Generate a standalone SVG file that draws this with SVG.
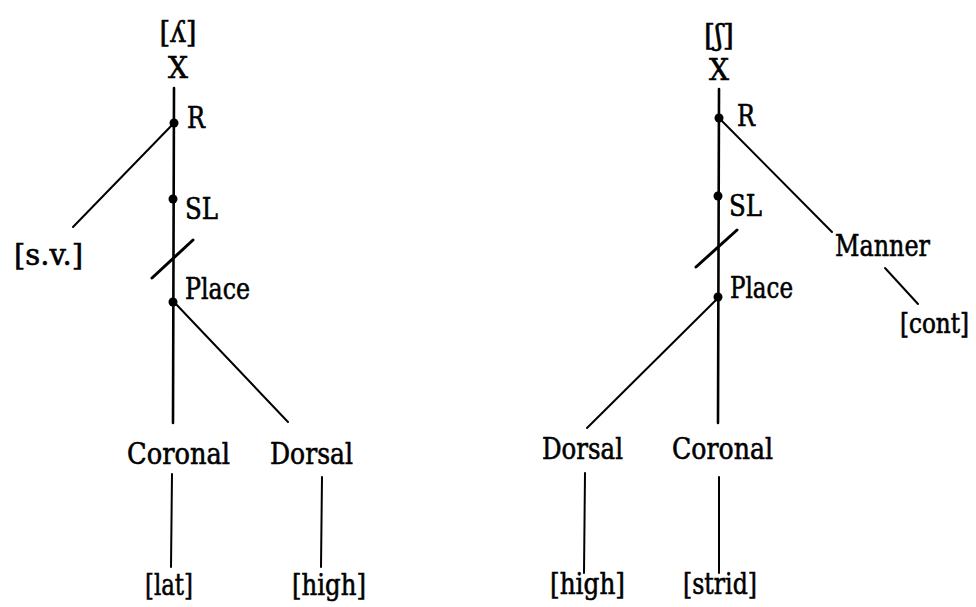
<svg xmlns="http://www.w3.org/2000/svg" width="976" height="607" viewBox="0 0 976 607">
  <style>
    text { font-family: "DejaVu Serif", "Liberation Serif", serif; font-size: 29px; fill: #000; stroke: #000; stroke-width: 0.6; }
    .mid { text-anchor: middle; }
    .ln { stroke: #000; stroke-width: 2; fill: none; stroke-linecap: round; }
    .trunk { stroke-width: 2.6; }
    .cut { stroke-width: 3; }
    .dot { fill: #000; }
  </style>
  <rect width="976" height="607" fill="#fff"/>

  <!-- connectors -->
  <g id="connectors">
    <!-- left tree: palatal lateral -->
    <line class="ln trunk" x1="174" y1="88" x2="173" y2="423"/>
    <line class="ln" x1="174" y1="123" x2="73" y2="227"/>
    <line class="ln cut" x1="152" y1="278" x2="193" y2="240"/>
    <line class="ln" x1="174" y1="302" x2="288" y2="422"/>
    <line class="ln" x1="172" y1="474" x2="171" y2="567"/>
    <line class="ln" x1="322" y1="477" x2="321" y2="567"/>
    <!-- right tree: palato-alveolar fricative -->
    <line class="ln trunk" x1="719" y1="89" x2="718" y2="423"/>
    <line class="ln" x1="719" y1="118" x2="832" y2="232"/>
    <line class="ln" x1="885" y1="268" x2="918" y2="304"/>
    <line class="ln cut" x1="696" y1="267" x2="737" y2="230"/>
    <line class="ln" x1="716" y1="300" x2="587" y2="428"/>
    <line class="ln" x1="585" y1="473" x2="584" y2="573"/>
    <line class="ln" x1="719" y1="477" x2="719" y2="573"/>
  </g>

  <!-- left tree nodes -->
  <g id="l-seg"><text class="mid" x="178" y="42" textLength="37" lengthAdjust="spacingAndGlyphs">[ʎ]</text></g>
  <g id="l-x"><text class="mid" x="178" y="78" textLength="20" lengthAdjust="spacingAndGlyphs">X</text></g>
  <g id="l-root"><circle class="dot" cx="174" cy="123" r="4.5"/><text x="187" y="128" textLength="18" lengthAdjust="spacingAndGlyphs">R</text></g>
  <g id="l-sv"><text x="14" y="265" textLength="69" lengthAdjust="spacingAndGlyphs">[s.v.]</text></g>
  <g id="l-sl"><circle class="dot" cx="173" cy="199" r="4.5"/><text x="185" y="219" textLength="33" lengthAdjust="spacingAndGlyphs">SL</text></g>
  <g id="l-place"><circle class="dot" cx="173" cy="302" r="4.5"/><text x="185" y="299" textLength="65" lengthAdjust="spacingAndGlyphs">Place</text></g>
  <g id="l-coronal"><text x="127" y="464" textLength="103" lengthAdjust="spacingAndGlyphs">Coronal</text></g>
  <g id="l-dorsal"><text x="270" y="464" textLength="83" lengthAdjust="spacingAndGlyphs">Dorsal</text></g>
  <g id="l-lat"><text x="145" y="595" textLength="48" lengthAdjust="spacingAndGlyphs">[lat]</text></g>
  <g id="l-high"><text x="292" y="595" textLength="74" lengthAdjust="spacingAndGlyphs">[high]</text></g>

  <!-- right tree nodes -->
  <g id="r-seg"><text class="mid" x="719" y="45" textLength="30" lengthAdjust="spacingAndGlyphs">[ʃ]</text></g>
  <g id="r-x"><text class="mid" x="719" y="80" textLength="20" lengthAdjust="spacingAndGlyphs">X</text></g>
  <g id="r-root"><circle class="dot" cx="719" cy="118" r="4.5"/><text x="737" y="126" textLength="18" lengthAdjust="spacingAndGlyphs">R</text></g>
  <g id="r-sl"><circle class="dot" cx="718" cy="196" r="4.5"/><text x="729" y="216" textLength="33" lengthAdjust="spacingAndGlyphs">SL</text></g>
  <g id="r-place"><circle class="dot" cx="718" cy="297" r="4.5"/><text x="730" y="298" textLength="63" lengthAdjust="spacingAndGlyphs">Place</text></g>
  <g id="r-manner"><text x="835" y="256" textLength="95" lengthAdjust="spacingAndGlyphs">Manner</text></g>
  <!-- [cont] sits against the right edge: smaller size, stretched back to full height -->
  <g id="r-cont" transform="translate(900,333) scale(1,1.2)"><text x="0" y="0" style="font-size:23px;stroke-width:0.55" textLength="69" lengthAdjust="spacingAndGlyphs">[cont]</text></g>
  <g id="r-dorsal"><text x="542" y="459" textLength="81" lengthAdjust="spacingAndGlyphs">Dorsal</text></g>
  <g id="r-coronal"><text x="672" y="459" textLength="101" lengthAdjust="spacingAndGlyphs">Coronal</text></g>
  <g id="r-high"><text x="550" y="594" textLength="75" lengthAdjust="spacingAndGlyphs">[high]</text></g>
  <g id="r-strid"><text x="683" y="594" textLength="74" lengthAdjust="spacingAndGlyphs">[strid]</text></g>
</svg>
